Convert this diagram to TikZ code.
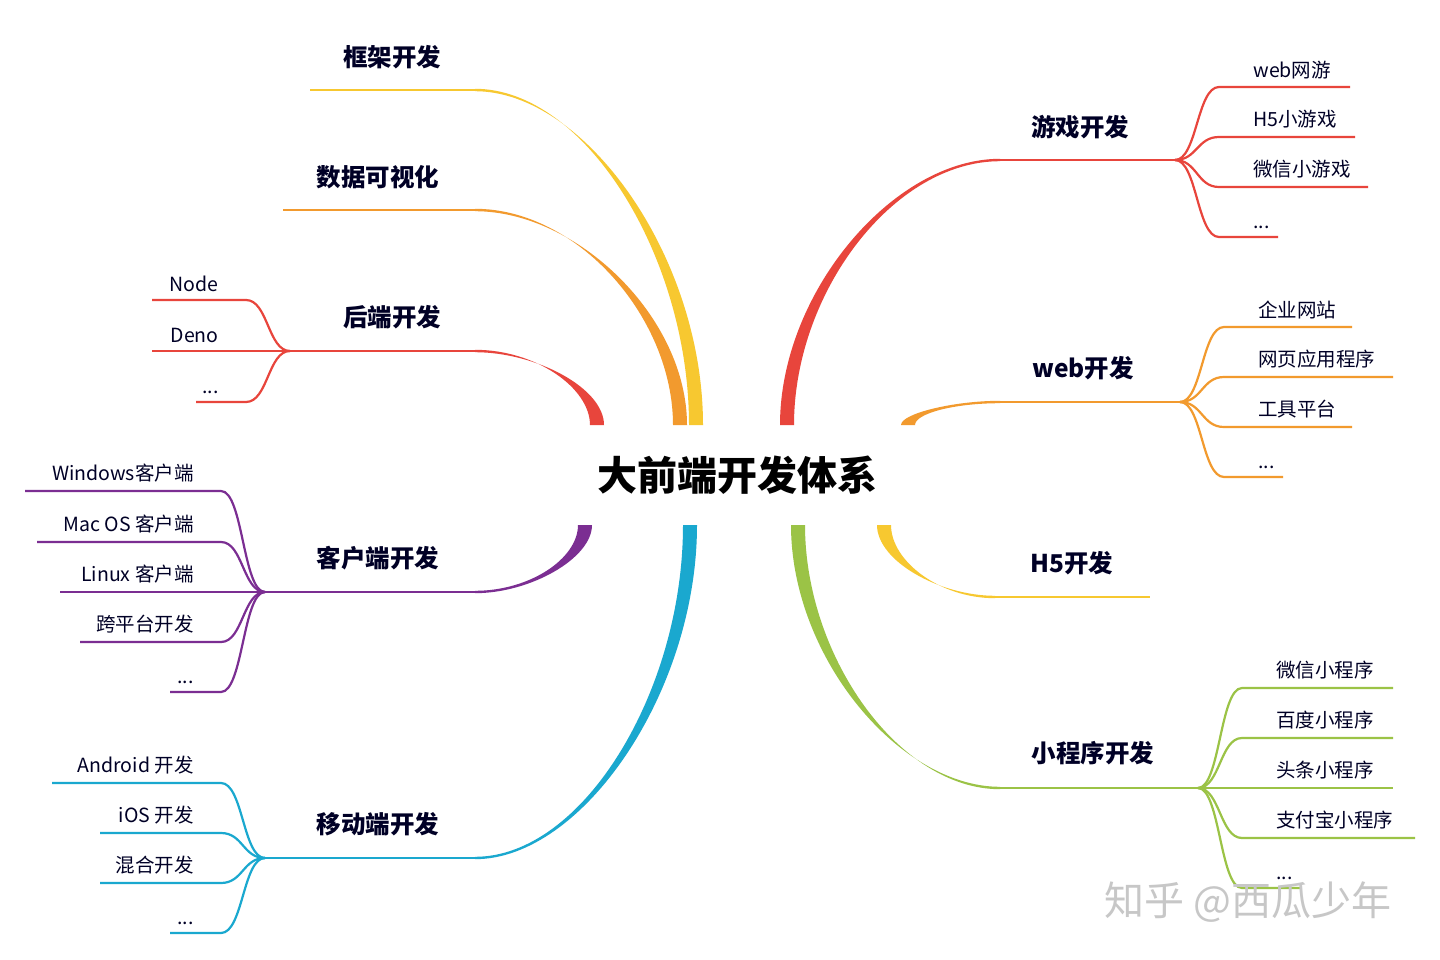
\documentclass[tikz,border=0pt]{standalone}
\usepackage{fontspec}
\setmainfont{Noto Sans CJK SC}
\begin{document}
\begin{tikzpicture}[x=1pt,y=-1pt,
  lab/.style={font=\fontsize{24.5}{27}\selectfont\bfseries,text=black!85!blue},
  sub/.style={font=\fontsize{19.5}{21}\selectfont,text=black!85!blue},
  line width=2.2pt]
\definecolor{cr}{HTML}{E8453C}\definecolor{co}{HTML}{F29A2E}\definecolor{cy}{HTML}{F7C830}
\definecolor{cg}{HTML}{9BC346}\definecolor{cp}{HTML}{7B2E92}\definecolor{cb}{HTML}{1AA8CF}
\useasboundingbox (0,0) rectangle (1440,960);
\fill[white] (0,0) rectangle (1440,960);
\newcommand\mbranch[5]{%
  \pgfmathsetmacro\my{0.5*#3+0.5*#5}\pgfmathsetmacro\mx{0.5*#2+0.5*#4}%
  \fill[#1] (#2-7,#3) .. controls (#2-7,\my) and (\mx,#5-1.2) .. (#4,#5-1.2) -- (#4,#5+1.2)
     .. controls (\mx,#5+1.2) and (#2+7,\my) .. (#2+7,#3) -- cycle;}
\newcommand\rchild[6]{%
  \pgfmathsetmacro\ha{#2+22}\pgfmathsetmacro\hb{#2+44}%
  \draw[#1] (#2,#3) .. controls (\ha,#3) and (\ha,#4) .. (\hb,#4) -- (#5,#4);
  \node[sub,anchor=south west] at (#2+74,#4-4) {#6};}
\newcommand\lchild[6]{%
  \pgfmathsetmacro\ha{#2-22}\pgfmathsetmacro\hb{#2-44}%
  \draw[#1] (#2,#3) .. controls (\ha,#3) and (\ha,#4) .. (\hb,#4) -- (#5,#4);
  \node[sub,anchor=south east] at (#2-67,#4-4) {#6};}

\node[font=\fontsize{40}{44}\selectfont\bfseries,text=black] (root) at (737,475) {大前端开发体系};

\mbranch{cr}{787}{425}{1000}{160}
\draw[cr] (1000,160) -- (1175,160);
\node[lab] (game) at (1080,127) {游戏开发};
\rchild{cr}{1175}{160}{87}{1350}{web网游}
\rchild{cr}{1175}{160}{137}{1355}{H5小游戏}
\rchild{cr}{1175}{160}{187}{1368}{微信小游戏}
\rchild{cr}{1175}{160}{237}{1278}{...}

\mbranch{co}{908}{425}{1000}{402}
\draw[co] (1000,402) -- (1180,402);
\node[lab] (web) at (1083,368) {web开发};
\rchild{co}{1180}{402}{327}{1352}{企业网站}
\rchild{co}{1180}{402}{377}{1393}{网页应用程序}
\rchild{co}{1180}{402}{427}{1352}{工具平台}
\rchild{co}{1180}{402}{477}{1283}{...}

\mbranch{cy}{884}{525}{995}{597}
\draw[cy] (995,597) -- (1150,597);
\node[lab] (h5) at (1072,563) {H5开发};

\mbranch{cg}{798}{525}{1000}{788}
\draw[cg] (1000,788) -- (1198,788);
\node[lab] (mini) at (1093,753) {小程序开发};
\rchild{cg}{1198}{788}{688}{1393}{微信小程序}
\rchild{cg}{1198}{788}{738}{1393}{百度小程序}
\rchild{cg}{1198}{788}{788}{1393}{头条小程序}
\rchild{cg}{1198}{788}{838}{1415}{支付宝小程序}
\rchild{cg}{1198}{788}{888}{1300}{...}

\mbranch{cy}{696}{425}{475}{90}
\draw[cy] (475,90) -- (310,90);
\node[lab] (frame) at (392,57) {框架开发};

\mbranch{co}{680}{425}{475}{210}
\draw[co] (475,210) -- (283,210);
\node[lab] (vis) at (378,177) {数据可视化};

\mbranch{cr}{597}{425}{475}{351}
\draw[cr] (475,351) -- (290,351);
\node[lab] (back) at (392,317) {后端开发};
\lchild{cr}{290}{351}{300}{152}{Node}
\lchild{cr}{290}{351}{351}{152}{Deno}
\lchild{cr}{290}{351}{402}{196}{...}

\mbranch{cp}{585}{525}{475}{592}
\draw[cp] (475,592) -- (265,592);
\node[lab] (client) at (378,558) {客户端开发};
\lchild{cp}{265}{592}{491}{25}{Windows客户端}
\lchild{cp}{265}{592}{542}{37}{Mac OS 客户端}
\lchild{cp}{265}{592}{592}{60}{Linux 客户端}
\lchild{cp}{265}{592}{642}{80}{跨平台开发}
\lchild{cp}{265}{592}{692}{170}{...}

\mbranch{cb}{690}{525}{475}{858}
\draw[cb] (475,858) -- (265,858);
\node[lab] (mobile) at (378,824) {移动端开发};
\lchild{cb}{265}{858}{783}{52}{Android 开发}
\lchild{cb}{265}{858}{833}{100}{iOS 开发}
\lchild{cb}{265}{858}{883}{100}{混合开发}
\lchild{cb}{265}{858}{933}{170}{...}

\node[font=\fontsize{40}{44}\selectfont,text=black!22] (wm) at (1248,902) {知乎 @西瓜少年};
\end{tikzpicture}
\end{document}
